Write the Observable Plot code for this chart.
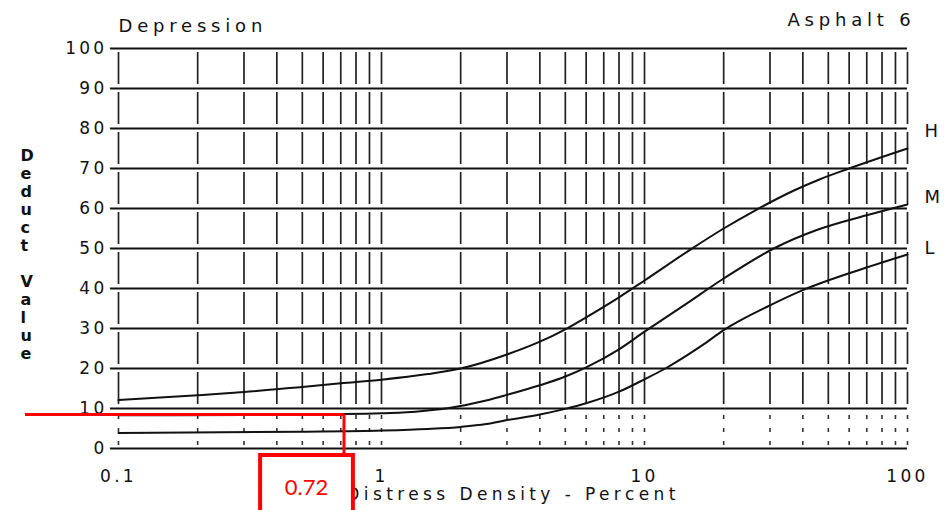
<!DOCTYPE html>
<html>
<head>
<meta charset="utf-8">
<script src="https://cdn.jsdelivr.net/npm/d3@7"></script>
<script src="https://cdn.jsdelivr.net/npm/@observablehq/plot@0.6"></script>
<style>
  html, body { margin: 0; padding: 0; background: #fff; }
  #chart svg { display: block; }
</style>
</head>
<body>
<div id="chart"></div>
<script>
// ---- Data ----
const chartTitle = "Depression";
const chartSubtitle = "Asphalt 6";
const xTitle = "Distress Density - Percent";
const yTitleLetters = ["D","e","d","u","c","t","","V","a","l","u","e"];

const xTicks = [0.1, 1, 10, 100];
const yTicks = [0, 10, 20, 30, 40, 50, 60, 70, 80, 90, 100];
const gridX = [0.1,0.2,0.3,0.4,0.5,0.6,0.7,0.8,0.9,
               1,2,3,4,5,6,7,8,9,
               10,20,30,40,50,60,70,80,90,100];

// High severity
const hX = [0.1, 0.2, 0.3, 0.5, 0.7, 1, 1.5, 2, 3, 4, 5, 6, 8, 10, 15, 20, 26, 37, 46, 60, 100];
const hY = [12.1, 13.3, 14.1, 15.4, 16.3, 17.2, 18.6, 20, 23.5, 26.7, 29.8, 32.8, 37.8, 42, 49.8, 55, 59.3, 64.5, 67.2, 70, 75];
// Medium severity
const mX = [0.1, 0.3, 0.5, 0.72, 1, 1.2, 1.5, 1.83, 2.5, 3, 4, 5, 6, 8, 10, 14.5, 20, 31, 46, 70, 100];
const mY = [8.3, 8.4, 8.5, 8.6, 8.8, 9.0, 9.5, 10.2, 12, 13.4, 15.8, 18, 20.3, 24.8, 29.2, 36.3, 42.5, 50, 54.8, 58.3, 61];
// Low severity
const lX = [0.1, 0.5, 1, 1.5, 2, 2.5, 3, 4, 5, 6, 8, 10, 12, 16.5, 20, 30, 40, 68, 100];
const lY = [3.9, 4.2, 4.5, 4.9, 5.4, 6.1, 7.1, 8.5, 9.9, 11.3, 14.2, 17.3, 20, 25.7, 29.6, 35.8, 39.6, 45, 48.5];

const seriesNames = ["H", "M", "L"];
const seriesEndY = [79.2, 62.8, 50];   // label positions at right edge

// Red annotation (reading density 0.72 -> deduct value)
const markDensity = [0.72];
const markDeduct = [8.5];
const markLabel = "0.72";
const markLineStart = 0.0443;          // where the red line begins, left of the axis
const boxX = [0.347, 0.782];
const boxY = [-1.75, -16];
const boxLabelPos = [0.519, -9.8];

// ---- Build tables ----
const curves = [
  ...hX.map((x, i) => ({s: "H", x, y: hY[i]})),
  ...mX.map((x, i) => ({s: "M", x, y: mY[i]})),
  ...lX.map((x, i) => ({s: "L", x, y: lY[i]}))
];
const endLabels = seriesNames.map((s, i) => ({s, y: seriesEndY[i]}));

const FONT = "DejaVu Sans";

const plot = Plot.plot({
  width: 948,
  height: 510,
  marginLeft: 118,
  marginRight: 41,
  marginTop: 48,
  marginBottom: 62,
  style: {fontFamily: FONT, background: "#fff", color: "#111"},
  x: {type: "log", domain: [0.1, 100]},
  y: {domain: [0, 100]},
  marks: [
    // vertical grid (broken at each horizontal line)
    Plot.ruleX(gridX, {y1: 100, y2: 10, stroke: "#222", strokeWidth: 1.7,
      strokeDasharray: "32 8", strokeDashoffset: 36}),
    Plot.ruleX(gridX, {y1: 10, y2: 0, stroke: "#333", strokeWidth: 1.6,
      strokeDasharray: "4 9", strokeDashoffset: 6}),
    // horizontal grid
    Plot.ruleY(yTicks, {x1: 0.0932, x2: 100, stroke: "#111", strokeWidth: 2}),
    // curves
    Plot.line(curves, {x: "x", y: "y", z: "s", stroke: "#111", strokeWidth: 2, curve: "monotone-x"}),
    // series labels
    Plot.text(endLabels, {x: 100, y: "y", text: "s", dx: 17, textAnchor: "start",
      fontSize: 18, fill: "#111"}),
    // axes
    Plot.axisY(yTicks, {tickSize: 0, tickPadding: 11, label: null, fontSize: 17,
      tickFormat: d => String(d)}),
    Plot.axisX(xTicks, {tickSize: 0, tickPadding: 21, label: null, fontSize: 17,
      tickFormat: d => String(d)}),
    // titles
    Plot.text([chartTitle], {frameAnchor: "top-left", dy: -22, fontSize: 18,
      textAnchor: "start", lineAnchor: "middle", fill: "#111"}),
    Plot.text([chartSubtitle], {frameAnchor: "top-right", dy: -28, dx: 8, fontSize: 18,
      textAnchor: "end", lineAnchor: "middle", fill: "#111"}),
    Plot.text([xTitle], {frameAnchor: "bottom", dy: 46, dx: 0, fontSize: 17,
      lineAnchor: "middle", fill: "#111"}),
    Plot.text([yTitleLetters.join("\n")], {frameAnchor: "left", dx: -98, dy: 6,
      fontSize: 16, fontWeight: "bold", lineHeight: 1.125, lineAnchor: "middle", fill: "#111"}),
    // red annotation
    Plot.ruleY(markDeduct, {x1: markLineStart, x2: markDensity[0], stroke: "#ff0000", strokeWidth: 3}),
    Plot.ruleX(markDensity, {y1: markDeduct[0], y2: boxY[0], stroke: "#ff0000", strokeWidth: 3}),
    Plot.rect([markLabel], {x1: boxX[0], x2: boxX[1], y1: boxY[0], y2: boxY[1],
      fill: "#fff", stroke: "#ff0000", strokeWidth: 4}),
    Plot.text([markLabel], {x: boxLabelPos[0], y: boxLabelPos[1], text: d => d,
      fontSize: 22, fill: "#ff0000", fontFamily: "Lato"})
  ]
});

document.getElementById("chart").appendChild(plot);

// letter spacing tweaks to imitate the wide lettering of the scan
const spacing = new Map([
  [chartTitle, "4.8px"],
  [chartSubtitle, "4.8px"],
  [xTitle, "4.4px"]
]);
d3.select(plot).selectAll("text").each(function() {
  const t = this.textContent;
  if (spacing.has(t)) d3.select(this).style("letter-spacing", spacing.get(t));
});
d3.select(plot).selectAll('g[aria-label="y-axis tick label"] text').style("letter-spacing", "3.3px");
d3.select(plot).selectAll('g[aria-label="x-axis tick label"] text').style("letter-spacing", "3.3px");
</script>
</body>
</html>
